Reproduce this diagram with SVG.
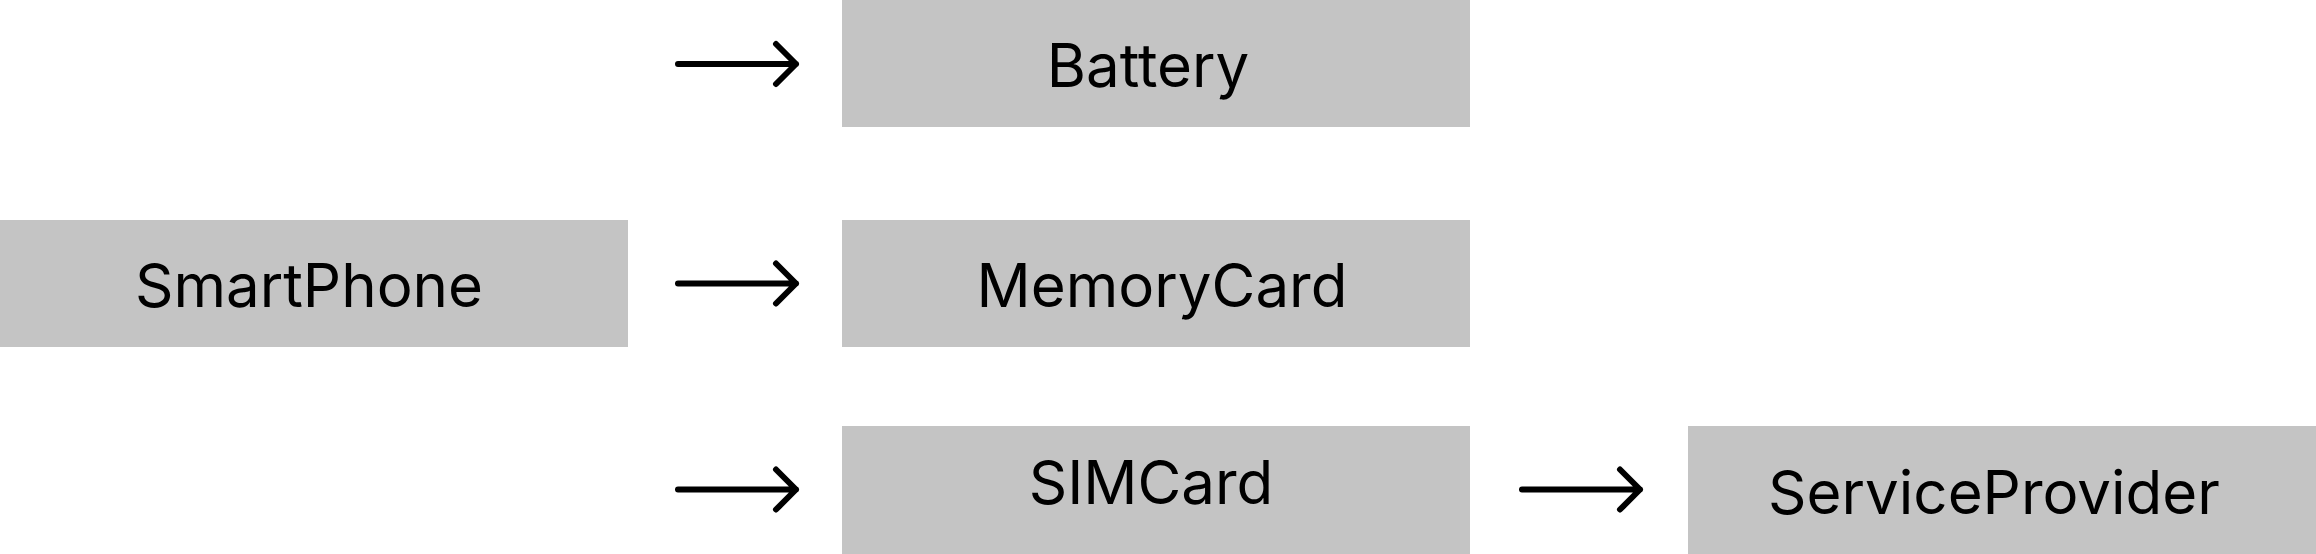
<svg xmlns="http://www.w3.org/2000/svg" width="2316" height="554" viewBox="0 0 2316 554">
<style>
.box{fill:#c4c4c4}
.lbl{font-family:Inter,"Liberation Sans",sans-serif;font-size:60px;fill:#000;text-anchor:middle}
.edge{stroke:#000;stroke-width:6;fill:none;stroke-linecap:round;stroke-linejoin:round}
</style>
<rect width="2316" height="554" fill="#fff"/>
<g id="SmartPhone"><rect class="box" x="0" y="220" width="628" height="127"/><text class="lbl" x="309" y="307">SmartPhone</text></g>
<g id="Battery"><rect class="box" x="842" y="0" width="628" height="127"/><text class="lbl" x="1148" y="87">Battery</text></g>
<g id="MemoryCard"><rect class="box" x="842" y="220" width="628" height="127"/><text class="lbl" x="1162" y="307">MemoryCard</text></g>
<g id="SIMCard"><rect class="box" x="842" y="426" width="628" height="128"/><text class="lbl" x="1151" y="504">SIMCard</text></g>
<g id="ServiceProvider"><rect class="box" x="1688" y="426" width="628" height="128"/><text class="lbl" x="1994" y="514">ServiceProvider</text></g>
<g id="connectors">
<path class="edge" d="M678 64H796M776 44L796 64L776 84"/>
<path class="edge" d="M678 283.5H796M776 263.5L796 283.5L776 303.5"/>
<path class="edge" d="M678 489.5H796M776 469.5L796 489.5L776 509.5"/>
<path class="edge" d="M1522 489.5H1640M1620 469.5L1640 489.5L1620 509.5"/>
</g>
</svg>
